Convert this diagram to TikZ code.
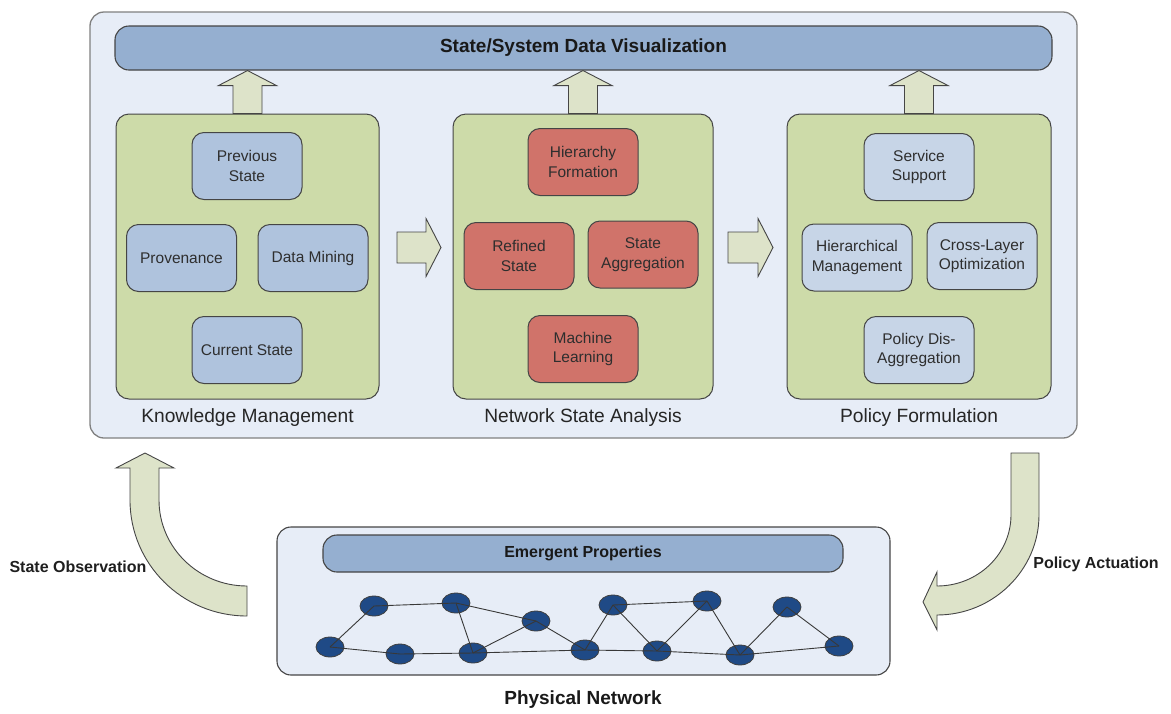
\documentclass[tikz,border=0pt]{standalone}
\usepackage{fontspec}
\setmainfont{Liberation Sans}
\usetikzlibrary{shapes.geometric,calc}

\definecolor{panelbg}{HTML}{E7EDF7}
\definecolor{panelline}{HTML}{808080}
\definecolor{barblue}{HTML}{95AFD0}
\definecolor{groupgreen}{HTML}{CDDBA9}
\definecolor{itemblue}{HTML}{AFC3DD}
\definecolor{itemred}{HTML}{D0736A}
\definecolor{itemlight}{HTML}{C7D5E7}
\definecolor{arrowfill}{HTML}{DDE3C9}
\definecolor{nodeblue}{HTML}{1F4A86}
\definecolor{edgegray}{HTML}{454545}

\tikzset{
  panel/.style={draw=panelline, line width=1.3pt, fill=panelbg, rounded corners=14pt, inner sep=0pt},
  netpanel/.style={draw=edgegray, line width=1.1pt, fill=panelbg, rounded corners=14pt, inner sep=0pt},
  bar/.style={draw=edgegray, line width=1.1pt, fill=barblue, rounded corners=14pt, inner sep=0pt, text=black!90},
  group/.style={draw=edgegray, line width=1pt, fill=groupgreen, rounded corners=13pt,
    minimum height=285pt, inner sep=0pt},
  item/.style={draw=edgegray, line width=1pt, rounded corners=12pt, minimum width=110pt,
    minimum height=67pt, align=center, inner sep=0pt, text=black!82,
    font=\fontsize{15.5}{19.5}\selectfont},
  grouplabel/.style={text=black!85, font=\fontsize{19.2}{23}\selectfont},
  sidelabel/.style={text=black!88, font=\fontsize{16}{19}\selectfont\bfseries},
  blockarrow/.style={draw=edgegray, line width=0.9pt, fill=arrowfill, line join=miter},
  netnode/.style={ellipse, draw=black!75, line width=0.8pt, fill=nodeblue,
    minimum width=28pt, minimum height=20pt, inner sep=0pt},
  link/.style={draw=black!78, line width=0.9pt},
}

% block arrow pointing up: #1 = foot centre, #2 = tip
\newcommand\upblock[2]{%
  \draw[blockarrow] ($(#1)+(-14.5,0)$) -- ($(#2)+(-14.5,15)$) -- ($(#2)+(-29,15)$)
    -- (#2) -- ($(#2)+(29,15)$) -- ($(#2)+(14.5,15)$) -- ($(#1)+(14.5,0)$) -- cycle;}
% block arrow pointing right: #1 = tail centre, #2 = tip
\newcommand\rightblock[2]{%
  \draw[blockarrow] ($(#1)+(0,-15.5)$) -- ($(#2)+(-15,-15.5)$) -- ($(#2)+(-15,-29)$)
    -- (#2) -- ($(#2)+(-15,29)$) -- ($(#2)+(-15,15.5)$) -- ($(#1)+(0,15.5)$) -- cycle;}

\begin{document}
\begin{tikzpicture}[x=1pt, y=-1pt]
\useasboundingbox (0,0) rectangle (1171,713);

% ---------- upper panel ----------
\node[panel, minimum width=987pt, minimum height=426pt] (top) at (583.5,225) {};
\node[bar, minimum width=937pt, minimum height=44pt,
      font=\fontsize{19}{23}\selectfont\bfseries] (viz) at (583.5,48)
      {State/System Data Visualization};

% group boxes
\node[group, minimum width=263pt] (km)  at (247.5,256.5) {};
\node[group, minimum width=260pt] (nsa) at (583,256.5) {};
\node[group, minimum width=264pt] (pf)  at (919,256.5) {};

\node[grouplabel] (kml)  at (247.5,418) {Knowledge Management};
\node[grouplabel] (nsal) at (583,418)   {Network State Analysis};
\node[grouplabel] (pfl)  at (919,418)   {Policy Formulation};

% knowledge management items
\node[item, fill=itemblue] (prev) at (247,166)   {Previous\\State};
\node[item, fill=itemblue] (prov) at (181.5,258) {Provenance};
\node[item, fill=itemblue] (dm)   at (313,258)   {Data Mining};
\node[item, fill=itemblue] (cur)  at (247,350)   {Current State};

% network state analysis items
\node[item, fill=itemred] (hf)  at (583,162)   {Hierarchy\\Formation};
\node[item, fill=itemred] (rs)  at (519,256)   {Refined\\State};
\node[item, fill=itemred] (sa)  at (643,254.5) {State\\Aggregation};
\node[item, fill=itemred] (ml)  at (583,349)   {Machine\\Learning};

% policy formulation items
\node[item, fill=itemlight] (ss)  at (919,167)   {Service\\Support};
\node[item, fill=itemlight] (hm)  at (857,257.5) {Hierarchical\\Management};
\node[item, fill=itemlight] (clo) at (982,256)   {Cross-Layer\\Optimization};
\node[item, fill=itemlight] (pda) at (919,350)   {Policy Dis-\\Aggregation};

% arrows up into the visualization bar
\coordinate (t1) at (viz.south -| km.north);
\coordinate (t2) at (viz.south -| nsa.north);
\coordinate (t3) at (viz.south -| pf.north);
\upblock{km.north}{t1}
\upblock{nsa.north}{t2}
\upblock{pf.north}{t3}

% arrows between the groups
\coordinate (r1a) at (397,247.5);
\coordinate (r1b) at (441,247.5);
\coordinate (r2a) at (728,247.5);
\coordinate (r2b) at (773,247.5);
\rightblock{r1a}{r1b}
\rightblock{r2a}{r2b}

% ---------- physical network ----------
\node[netpanel, minimum width=613pt, minimum height=148pt] (phys) at (583.5,601) {};
\node[bar, minimum width=520pt, minimum height=37pt,
      font=\fontsize{16}{19}\selectfont\bfseries] (emerg) at (583,553.5)
      {Emergent Properties};
\node[text=black!90, font=\fontsize{19}{23}\selectfont\bfseries] (physl) at (583,700)
      {Physical Network};

\node[netnode] (n1)  at (374,606) {};
\node[netnode] (n2)  at (456,603) {};
\node[netnode] (n3)  at (536,621) {};
\node[netnode] (n4)  at (613,605) {};
\node[netnode] (n5)  at (707,601) {};
\node[netnode] (n6)  at (787,607) {};
\node[netnode] (n7)  at (330,647) {};
\node[netnode] (n8)  at (400,654) {};
\node[netnode] (n9)  at (473,653) {};
\node[netnode] (n10) at (585,650) {};
\node[netnode] (n11) at (657,651) {};
\node[netnode] (n12) at (740,655) {};
\node[netnode] (n13) at (839,646) {};

\foreach \a/\b in {n7/n1, n1/n2, n2/n9, n2/n3, n7/n8, n8/n9, n9/n3, n3/n10,
                   n9/n10, n10/n4, n4/n5, n4/n11, n10/n11, n11/n5, n5/n12,
                   n11/n12, n12/n6, n6/n13, n12/n13}
  \draw[link] (\a.center) -- (\b.center);

% ---------- feedback loop ----------
\draw[blockarrow] (247,586) -- (247,616) .. controls (182,616) and (130,564) .. (130,500)
  -- (130,468) -- (116,468) -- (145,453) -- (174,468) -- (159,468) -- (159,500)
  .. controls (159,547.5) and (198.4,586) .. (247,586) -- cycle;
\node[sidelabel] (obs) at (78,567) {State Observation};

\draw[blockarrow] (1011,453) -- (1039,453) -- (1039,515)
  .. controls (1039,570) and (993,615) .. (937,615) -- (937,630) -- (923,602)
  -- (937,572) -- (937,586) .. controls (978,586) and (1011,554) .. (1011,515) -- cycle;
\node[sidelabel] (act) at (1096,564) {Policy Actuation};
\end{tikzpicture}
\end{document}
